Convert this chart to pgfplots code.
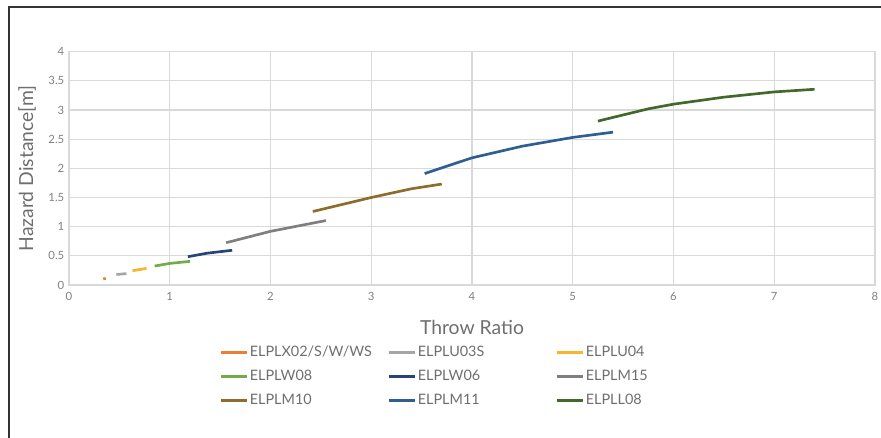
\documentclass[border=0pt]{standalone}
\usepackage{fontspec}
\setmainfont{Lato}
\setsansfont{Lato}
\usepackage{pgfplots}
\pgfplotsset{compat=1.18}
\definecolor{c1}{HTML}{ED7D31}
\definecolor{c2}{HTML}{A5A5A5}
\definecolor{c3}{HTML}{F9B42D}
\definecolor{c4}{HTML}{70AD47}
\definecolor{c5}{HTML}{264478}
\definecolor{c6}{HTML}{7F7F7F}
\definecolor{c7}{HTML}{8E6D2C}
\definecolor{c8}{HTML}{2F5F91}
\definecolor{c9}{HTML}{43682B}
\definecolor{gridc}{HTML}{D9D9D9}
\definecolor{txt}{HTML}{6E6E6E}
\begin{document}
\begin{tikzpicture}[x=0.75pt,y=0.75pt]
\useasboundingbox (-69,-153) rectangle (812,285);
\draw[line width=1.3pt,black!80] (-60,-160) -- (-60,278) -- (820,278);
\begin{axis}[
  at={(0,0)}, anchor=south west,
  scale only axis, width=604.5pt, height=175pt,
  xmin=0, xmax=8, ymin=0, ymax=4,
  xtick={0,1,...,8}, ytick={0,0.5,...,4},
  grid=major,
  major grid style={gridc, line width=0.9pt},
  axis line style={gridc, line width=0.9pt},
  tick style={draw=none},
  /pgf/number format/assume math mode=true,
  ticklabel style={font=\fontsize{8.5}{10}\selectfont, text=black!50},
  xticklabel style={yshift=-2pt},
  xlabel={Throw Ratio}, ylabel={Hazard Distance[m]},
  label style={font=\fontsize{14.5}{16}\selectfont, text=txt},
  xlabel style={at={(axis description cs:0.5,-0.184)}, anchor=center},
  ylabel style={at={(axis description cs:-0.052,0.5)}, anchor=center, rotate=0},
  legend columns=3,
  legend cell align=left,
  legend style={draw=none, fill=none, inner sep=0pt,
    at={(axis description cs:0.186,-0.25)}, anchor=north west,
    font=\fontsize{10.8}{12}\selectfont, text=txt,
    nodes={inner xsep=1pt, inner ysep=2pt, text width=102pt},
    row sep=4.6pt,
  },
  legend image code/.code={\draw[#1, line width=2pt] (0pt,0pt) -- (20pt,0pt);},
  every axis plot/.append style={line width=2pt},
]
\addplot[c1] coordinates {(0.34,0.105)(0.365,0.112)};
\addlegendentry{ELPLX02/S/W/WS}
\addplot[c2] coordinates {(0.47,0.18)(0.57,0.195)};
\addlegendentry{ELPLU03S}
\addplot[c3] coordinates {(0.63,0.245)(0.70,0.265)(0.77,0.285)};
\addlegendentry{ELPLU04}
\addplot[c4] coordinates {(0.85,0.325)(1.0,0.37)(1.2,0.405)};
\addlegendentry{ELPLW08}
\addplot[c5] coordinates {(1.18,0.485)(1.37,0.545)(1.62,0.595)};
\addlegendentry{ELPLW06}
\addplot[c6] coordinates {(1.56,0.725)(2.0,0.92)(2.55,1.105)};
\addlegendentry{ELPLM15}
\addplot[c7] coordinates {(2.42,1.26)(3.0,1.50)(3.4,1.65)(3.70,1.73)};
\addlegendentry{ELPLM10}
\addplot[c8] coordinates {(3.53,1.91)(4.0,2.18)(4.5,2.38)(5.0,2.53)(5.40,2.62)};
\addlegendentry{ELPLM11}
\addplot[c9] coordinates {(5.25,2.81)(5.75,3.02)(6.0,3.10)(6.5,3.22)(7.0,3.31)(7.40,3.355)};
\addlegendentry{ELPLL08}
\end{axis}
\end{tikzpicture}
\end{document}
